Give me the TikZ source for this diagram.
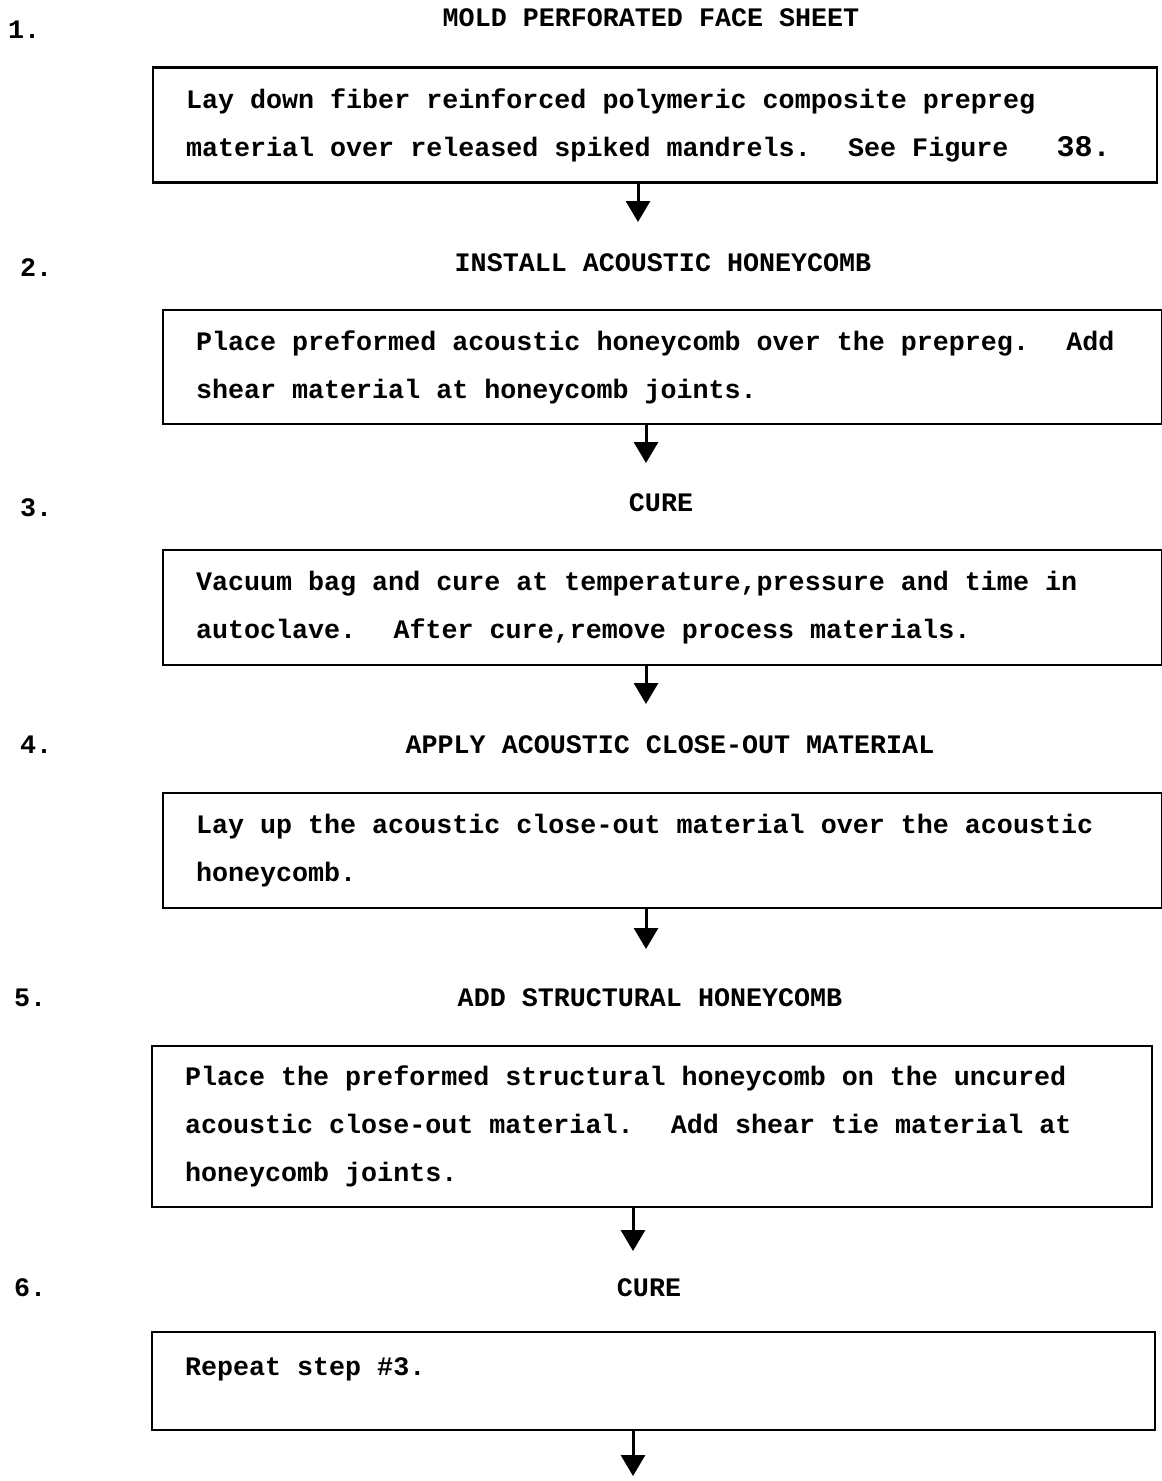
\documentclass[tikz,border=0pt]{standalone}
\usepackage{fontspec}
\setmainfont{Liberation Mono}[BoldFont={Liberation Mono Bold},WordSpace={1,0,0}]
\usetikzlibrary{arrows.meta}
\newcommand\nsp{\spaceskip=0pt\xspaceskip=0pt\relax}
\begin{document}
\begin{tikzpicture}[x=1pt,y=-1pt,
  every node/.style={font=\fontsize{26.7}{48}\selectfont\bfseries},
  stepbox/.style={draw, line width=2.4pt, rectangle, inner xsep=33pt, inner ysep=0pt, align=left},
  head/.style={inner sep=0pt},
  num/.style={inner sep=0pt, anchor=west},
  flow/.style={line width=3pt, -{Triangle[width=24pt,length=21pt]}}
]
\useasboundingbox (0,0) rectangle (1162,1481);
% step numbers
\node[num] (n1) at (8,30) {1.};
\node[num] (n2) at (20,268) {2.};
\node[num] (n3) at (20,508) {3.};
\node[num] (n4) at (20,745) {4.};
\node[num] (n5) at (14,998) {5.};
\node[num] (n6) at (14,1288) {6.};
% headers
\node[head] (h1) at (651,18) {MOLD PERFORATED FACE SHEET};
\node[head] (h2) at (663,263) {INSTALL ACOUSTIC HONEYCOMB};
\node[head] (h3) at (661,503) {CURE};
\node[head] (h4) at (670,745) {APPLY ACOUSTIC CLOSE-OUT MATERIAL};
\node[head] (h5) at (650,998) {ADD STRUCTURAL HONEYCOMB};
\node[head] (h6) at (649,1288) {CURE};
% boxes
\node[stepbox, text width=938pt, minimum height=115pt] (b1) at (655,125)
  {\nsp Lay down fiber reinforced polymeric composite prepreg\\material over released spiked mandrels.~ See Figure~~~{\fontsize{30}{48}\selectfont 38.}};
\node[stepbox, text width=933pt, minimum height=114pt] (b2) at (662.5,367)
  {\nsp Place preformed acoustic honeycomb over the prepreg.~ Add\\shear material at honeycomb joints.};
\node[stepbox, text width=933pt, minimum height=115pt] (b3) at (662.5,607.5)
  {\nsp Vacuum bag and cure at temperature,pressure and time in\\autoclave.~ After cure,remove process materials.};
\node[stepbox, text width=933pt, minimum height=115pt] (b4) at (662.5,850.5)
  {\nsp Lay up the acoustic close-out material over the acoustic\\honeycomb.};
\node[stepbox, text width=934pt, minimum height=161pt] (b5) at (652,1126.5)
  {\nsp Place the preformed structural honeycomb on the uncured\\acoustic close-out material.~ Add shear tie material at\\honeycomb joints.};
\node[stepbox, text width=937pt, minimum height=98pt] (b6) at (653.5,1381)
  {\nsp Repeat step \#3.\\[-34pt]\strut};
% arrow tips
\coordinate (a1) at (638,222);
\coordinate (a2) at (646,463);
\coordinate (a3) at (646,704);
\coordinate (a4) at (646,949);
\coordinate (a5) at (633,1251);
\coordinate (a6) at (633,1476);
\draw[flow] (b1.south -| a1) -- (a1);
\draw[flow] (b2.south -| a2) -- (a2);
\draw[flow] (b3.south -| a3) -- (a3);
\draw[flow] (b4.south -| a4) -- (a4);
\draw[flow] (b5.south -| a5) -- (a5);
\draw[flow] (b6.south -| a6) -- (a6);
\end{tikzpicture}
\end{document}
